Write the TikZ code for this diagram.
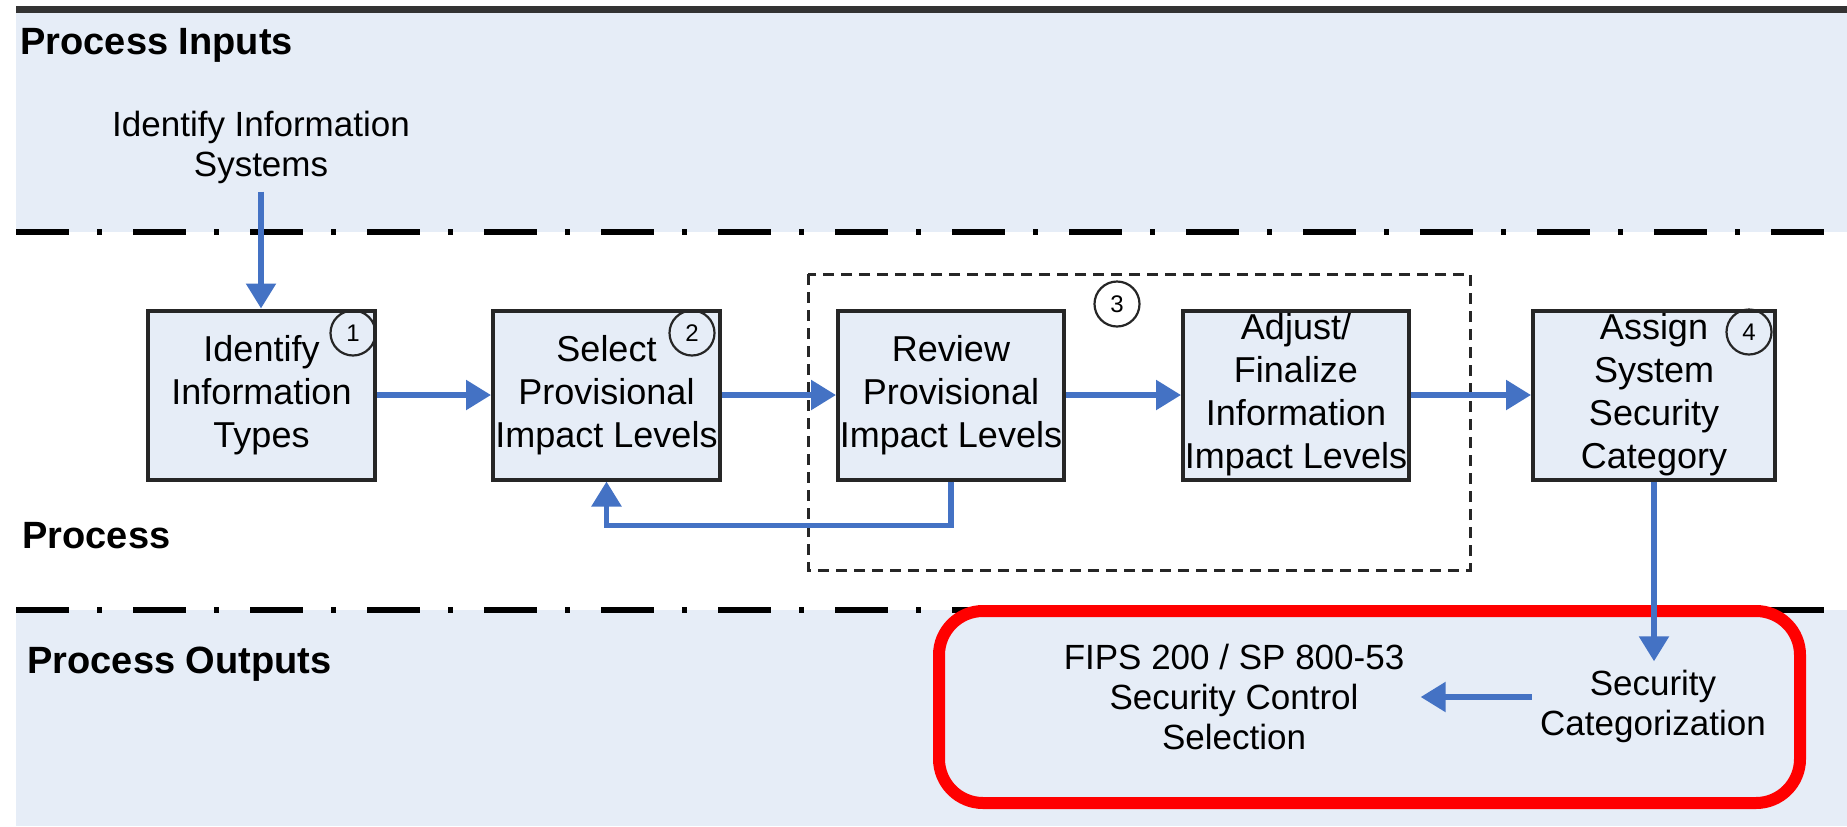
\documentclass[tikz,border=0pt]{standalone}
\usepackage{fontspec}
\setmainfont{Liberation Sans}
\usetikzlibrary{arrows.meta,calc}
\definecolor{band}{RGB}{230,237,247}
\definecolor{arrblue}{RGB}{68,114,196}
\definecolor{boxline}{RGB}{38,38,38}
\begin{document}
\begin{tikzpicture}[x=0.5pt,y=-0.5pt,
  txt/.style={font=\fontsize{17.5}{20}\selectfont, align=center, inner sep=4pt},
  head/.style={font=\fontsize{19}{22}\selectfont\bfseries, anchor=west, inner sep=0pt},
  procbox/.style={draw=boxline, line width=2pt, fill=band, align=center,
    font=\fontsize{18}{21.5}\selectfont, inner sep=0pt, minimum height=84.5pt},
  num/.style={circle, draw=boxline, line width=1.1pt, minimum size=22.5pt, inner sep=0pt,
    font=\fontsize{12}{12}\selectfont},
  arr/.style={draw=arrblue, line width=2.75pt, -{Triangle[length=12.5pt,width=14.5pt]}},
  dashdot/.style={line width=3pt, dash pattern=on 26.5pt off 14pt on 2.5pt off 15.5pt},
  groupbox/.style={draw=boxline, line width=1.5pt, dash pattern=on 5.5pt off 3.5pt}
]
\useasboundingbox (0,0) rectangle (1847,826);
\fill[white] (0,0) rectangle (1847,826);
% bands
\fill[band] (16,12) rectangle (1847,232);
\fill[band] (16,610) rectangle (1847,826);
\draw[line width=3.5pt, draw=black!80] (16,9.5) -- (1847,9.5);
\draw[dashdot] (16,232) -- (1847,232);
\draw[dashdot] (16,610) -- (1847,610);
% headings
\node[head] (hin) at (20,45) {Process Inputs};
\node[head] (hproc) at (22,536) {Process};
\node[head] (hout) at (27,664) {Process Outputs};
% group box for step 3
\draw[groupbox] (808,274) rectangle (1470,570);
% input
\node[txt] (inp) at (261,147) {Identify Information\\Systems};
% process boxes
\node[procbox, minimum width=113.5pt] (b1) at (261.5,395) {Identify\\Information\\Types};
\node[procbox, minimum width=113.5pt] (b2) at (606.5,395) {Select\\Provisional\\Impact Levels};
\node[procbox, minimum width=113pt] (b3a) at (951,395) {Review\\Provisional\\Impact Levels};
\node[procbox, minimum width=113pt] (b3b) at (1296,395) {Adjust/\\Finalize\\Information\\Impact Levels};
\node[procbox, minimum width=121pt] (b4) at (1654,395) {Assign\\System\\Security\\Category};
% step numbers
\node[num] (c1) at (353,333) {1};
\node[num] (c2) at (692,333) {2};
\node[num] (c3) at (1117,304) {3};
\node[num] (c4) at (1749,332) {4};
% arrows
\draw[arr] (inp.south) -- (inp.south |- b1.north);
\draw[arr] (b1) -- (b2);
\draw[arr] (b2) -- (b3a);
\draw[arr] (b3a) -- (b3b);
\draw[arr] (b3b) -- (b4);
\draw[arr] (b3a.south) -- ++(0,44) -| (b2.south);
% outputs
\draw[red, line width=6pt, rounded corners=22pt] (939,611) rectangle (1800,803);
\node[txt] (sc) at (1653,706) {Security\\Categorization};
\node[txt, inner xsep=8pt] (fips) at (1234,697) {FIPS 200 / SP 800-53\\Security Control\\Selection};
\draw[arr] (b4.south) -- (b4.south |- sc.north);
\draw[arr] (sc.west |- fips.east) -- (fips.east);
\end{tikzpicture}
\end{document}
